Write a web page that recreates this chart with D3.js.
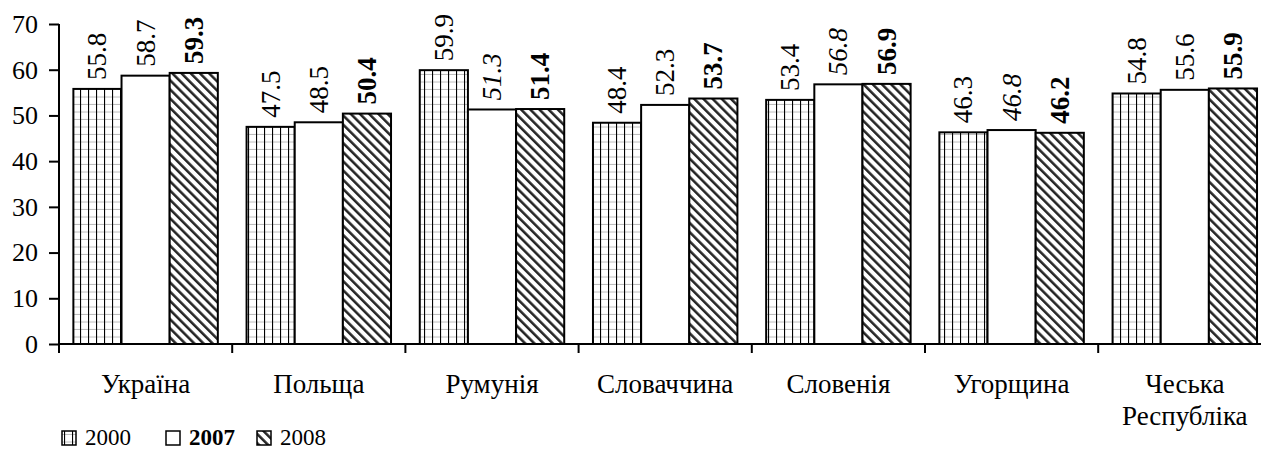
<!DOCTYPE html>
<html><head><meta charset="utf-8">
<script src="https://cdn.jsdelivr.net/npm/d3@7"></script>
<style>body{margin:0;background:#fff}svg{display:block}</style>
</head><body><svg id="c" width="1261" height="450" style="font-family:'Liberation Serif';"></svg>
<script>
const categories = ["Україна","Польща","Румунія","Словаччина","Словенія","Угорщина","Чеська Республіка"];
const series = ["2000","2007","2008"];
const v2000 = [55.8,47.5,59.9,48.4,53.4,46.3,54.8];
const v2007 = [58.7,48.5,51.3,52.3,56.8,46.8,55.6];
const v2008 = [59.3,50.4,51.4,53.7,56.9,46.2,55.9];
const yTicks = [0,10,20,30,40,50,60,70];
const italic2007 = [false,false,true,false,true,true,false];

const FONT = "'Liberation Serif', 'Times New Roman', Times, serif";
const svg = d3.select("#c");
const defs = svg.append("defs");
const p1 = defs.append("pattern").attr("id","pv").attr("patternUnits","userSpaceOnUse").attr("width",8).attr("height",7.5);
p1.append("rect").attr("width",8).attr("height",7.5).attr("fill","#fff");
p1.append("line").attr("x1",0).attr("x2",8).attr("y1",7).attr("y2",7).attr("stroke","#bbb").attr("stroke-width",1);
p1.append("line").attr("x1",0.5).attr("x2",0.5).attr("y1",0).attr("y2",7.5).attr("stroke","#000").attr("stroke-width",1.2);
const p2 = defs.append("pattern").attr("id","pd").attr("patternUnits","userSpaceOnUse").attr("width",6.5).attr("height",6.5).attr("patternTransform","rotate(45)");
p2.append("rect").attr("width",6.5).attr("height",6.5).attr("fill","#fff");
p2.append("line").attr("x1",0).attr("x2",6.5).attr("y1",1.5).attr("y2",1.5).attr("stroke","#222").attr("stroke-width",2.5);
const fills = ["url(#pv)","#fff","url(#pd)"];

const x0 = d3.scaleBand().domain(categories).range([59,1271.4]).paddingInner(0.166).paddingOuter(0.083);
const x1 = d3.scaleBand().domain(series).range([0,x0.bandwidth()]);
const y = d3.scaleLinear().domain([0,70]).range([344,24]);
const data = [v2000,v2007,v2008];

function txt(sel){ return sel.style("font-family",FONT).attr("fill","#000"); }

const g = svg.append("g");
categories.forEach((c,i)=>{
  series.forEach((s,j)=>{
    const val = data[j][i];
    const bx = x0(c)+x1(s);
    g.append("rect").attr("x",bx).attr("y",y(val)).attr("width",x1.bandwidth()).attr("height",y(0)-y(val))
      .attr("fill",fills[j]).attr("stroke","#000").attr("stroke-width",2);
    const t = txt(g.append("text")).attr("transform",`translate(${bx+x1.bandwidth()/2+9},${y(val)-9}) rotate(-90)`)
      .style("font-size","27px").text(val.toFixed(1));
    if(j===2) t.style("font-weight","bold");
    if(j===1 && italic2007[i]) t.style("font-style","italic");
  });
});

// y axis
const ya = svg.append("g").attr("transform","translate(59,0)").call(d3.axisLeft(y).tickValues(yTicks).tickSize(10).tickPadding(11));
ya.select(".domain").attr("stroke","#000").attr("stroke-width",2).attr("d","M0,24V344");
ya.selectAll(".tick line").attr("stroke","#000").attr("stroke-width",2);
txt(ya.selectAll(".tick text")).style("font-size","26px");

// x axis
svg.append("line").attr("x1",59).attr("x2",1261).attr("y1",344).attr("y2",344).attr("stroke","#000").attr("stroke-width",2);
const step = x0.step();
d3.range(0,8).forEach(k=>{
  const tx = 59 + k*step;
  if(tx<1261) svg.append("line").attr("x1",tx).attr("x2",tx).attr("y1",344).attr("y2",353).attr("stroke","#000").attr("stroke-width",2);
});
categories.forEach(c=>{
  const cx = x0(c)+x0.bandwidth()/2;
  const parts = c==="Чеська Республіка" ? ["Чеська","Республіка"] : [c];
  parts.forEach((p,k)=>{
    txt(svg.append("text")).attr("x",cx).attr("y",393+k*32).attr("text-anchor","middle").style("font-size","27px").text(p);
  });
});

// legend
const leg = [{x:62,label:"2000",fill:"url(#pv)",bold:false},{x:166,label:"2007",fill:"#fff",bold:true},{x:257,label:"2008",fill:"url(#pd)",bold:false}];
leg.forEach(l=>{
  svg.append("rect").attr("x",l.x).attr("y",431).attr("width",14).attr("height",14).attr("fill",l.fill).attr("stroke","#000").attr("stroke-width",1.5);
  txt(svg.append("text")).attr("x",l.x+23).attr("y",445).style("font-size","23px").style("font-weight",l.bold?"bold":"normal").text(l.label);
});
</script></body></html>
